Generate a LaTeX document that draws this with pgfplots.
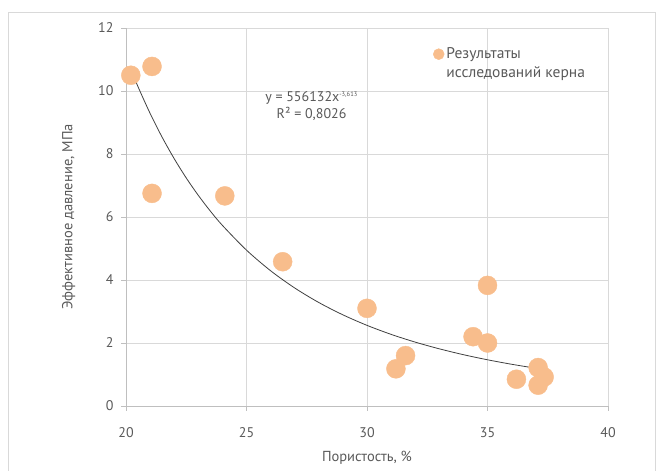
\documentclass[border=0pt]{standalone}
\usepackage{pgfplots}
\pgfplotsset{compat=1.18}
\usepackage{fontspec}
\setmainfont{PT Sans}
\definecolor{txt}{HTML}{595959}
\definecolor{gridc}{HTML}{D9D9D9}
\definecolor{axc}{HTML}{BFBFBF}
\definecolor{mk}{HTML}{F8BD8C}
\definecolor{trend}{HTML}{404040}
\begin{document}
\begin{tikzpicture}
\path[use as bounding box] (0,0) rectangle (662bp,471bp);
\draw[gridc, line width=0.8bp] (8bp,0bp) -- (8bp,459bp) -- (655bp,459bp) -- (655bp,0bp);
\begin{axis}[
  at={(126bp,65bp)}, anchor=south west,
  scale only axis, width=482bp, height=378bp,
  xmin=20, xmax=40, ymin=0, ymax=12,
  xtick={20,25,30,35,40}, ytick={0,2,4,6,8,10,12},
  axis lines=left, axis line style={-, axc, line width=0.8bp},
  grid=major, major grid style={gridc, line width=0.8bp},
  tick align=outside, major tick length=5bp,
  tick style={axc, line width=0.8bp},
  /pgf/number format/assume math mode=true,
  ticklabel style={font=\fontsize{14bp}{16bp}\selectfont, text=txt},
  xticklabel style={yshift=-13bp},
  yticklabel style={xshift=-4bp},
  label style={font=\fontsize{14.5bp}{17bp}\selectfont, text=txt},
  xlabel={Пористость, \%},
  ylabel={Эффективное давление, МПа},
  xlabel style={yshift=-7bp},
  ylabel style={yshift=16bp},
  legend style={at={(axis cs:32.55,11.5)}, anchor=north west, draw=none, fill=none,
    font=\fontsize{15.5bp}{18bp}\selectfont, text=txt, row sep=2.5bp},
  legend cell align=left,
  clip=false,
]
\addplot[only marks, mark=*, mark size=9.5bp, color=mk,
  legend image code/.code={\fill[mk] (0.25cm,0cm) circle (5.5bp);}]
coordinates {
(20.2,10.5) (21.08,10.78) (21.08,6.75) (24.1,6.67) (26.5,4.58)
(30.0,3.1) (31.2,1.18) (31.6,1.6) (34.4,2.2) (35.0,2.0) (35.0,3.83)
(36.2,0.85) (37.1,1.22) (37.35,0.92) (37.1,0.66)
};
\addlegendentry{Результаты}
\addlegendimage{empty legend}
\addlegendentry{исследований керна}
\addplot[trend, line width=0.8bp, smooth, forget plot] coordinates {
(20.2,10.69) (20.5,10.134) (21,9.289) (21.5,8.532) (22,7.852) (22.5,7.239)
(23,6.687) (23.5,6.187) (24,5.734) (25,4.948) (26,4.294) (27,3.747)
(28,3.285) (29,2.894) (30,2.560) (31,2.274) (32,2.028) (33,1.815)
(34,1.629) (35,1.467) (36,1.325) (37,1.200) (37.3,1.166)
};
\node[text=txt, font=\fontsize{14bp}{17.5bp}\selectfont, align=center] at (axis cs:27.7,9.52)
  {y = 556132x\textsuperscript{\fontsize{6.5bp}{7bp}\selectfont -3,613}\\R² = 0,8026};
\end{axis}
\end{tikzpicture}
\end{document}
